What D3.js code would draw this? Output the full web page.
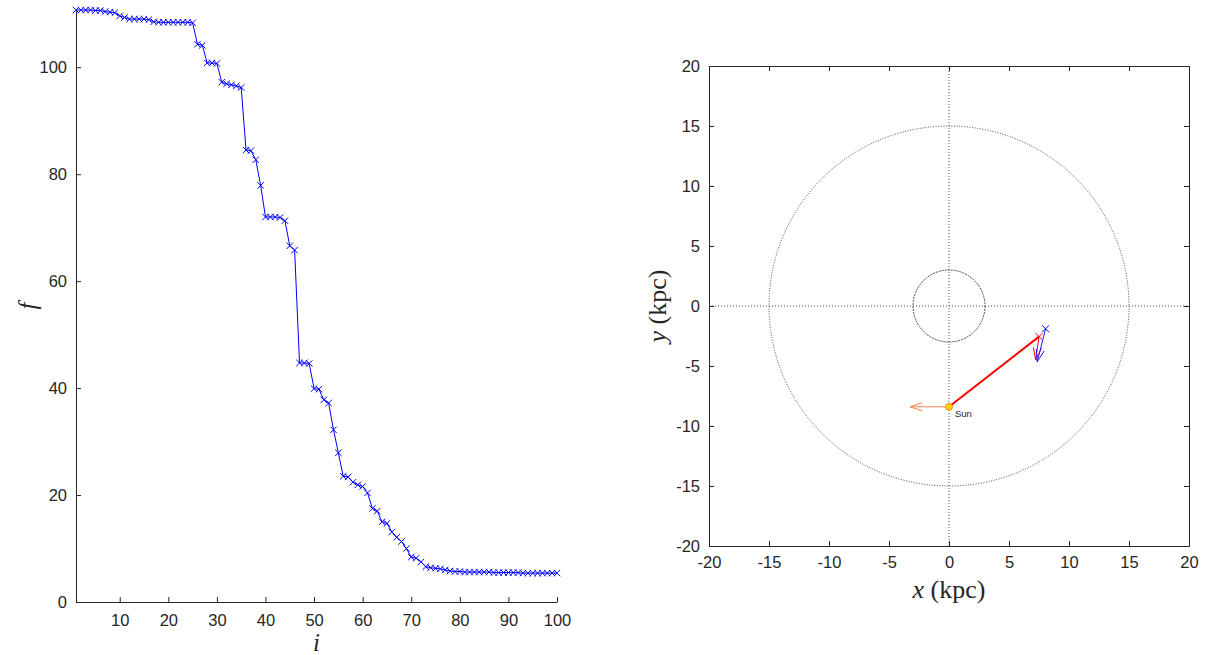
<!DOCTYPE html>
<html><head><meta charset="utf-8">
<script src="https://cdn.jsdelivr.net/npm/d3@7"></script>
<style>
body{margin:0;background:#fff;}
svg{display:block;}
.tick text{font-family:"Liberation Sans",Arial,sans-serif;font-size:16.5px;fill:#262626;}
</style></head><body>
<svg id="c" width="1208" height="655"></svg>
<script>
// ---- Left chart data ----
const iValues = d3.range(1, 101);
const fValues = [
 110.7,110.7,110.7,110.7,110.6,110.6,110.4,110.3,110.2,109.6,
 109.3,109.0,109.0,109.0,109.0,108.9,108.5,108.4,108.4,108.4,
 108.4,108.4,108.4,108.4,108.3,104.3,104.1,100.8,100.8,100.7,
 97.2,96.9,96.7,96.5,96.2,84.5,84.4,82.7,77.9,72.0,
 72.0,72.0,71.9,71.3,66.6,65.8,44.7,44.7,44.6,39.9,
 39.8,37.8,37.2,32.2,27.9,23.5,23.4,22.4,21.9,21.6,
 20.4,17.5,17.0,15.0,14.7,13.1,12.1,11.3,10.0,8.4,
 8.2,7.5,6.6,6.4,6.3,6.2,6.0,5.8,5.7,5.7,
 5.6,5.6,5.6,5.6,5.6,5.6,5.5,5.5,5.5,5.5,
 5.5,5.5,5.4,5.4,5.4,5.4,5.4,5.4,5.4,5.4
];
const leftXTicks = [10,20,30,40,50,60,70,80,90,100];
const leftYTicks = [0,20,40,60,80,100];

// ---- Right chart data ----
const rightTicks = [-20,-15,-10,-5,0,5,10,15,20];
const circleRadii = [15, 3];
const sunPos = [0, -8.4];
const sunVel = [-3.25, 0];
const redPos = [7.5, -2.55];
const redVel = [-0.28, -1.95];
const bluePos = [8.05, -1.9];
const blueVel = [-0.7, -2.75];

const svg = d3.select("#c");
const axisColor = "#262626";
const fmt = d => String(d); // plain hyphen minus like the reference
const serif = "'Liberation Serif','DejaVu Serif',serif";

// ================= LEFT =================
const L = {left:76, right:557, top:10, bottom:602};
const xL = d3.scaleLinear().domain([1,100]).range([L.left, L.right]);
const yL = d3.scaleLinear().domain([0, d3.max(fValues)]).range([L.bottom, L.top]);

const gL = svg.append("g");
const xAxisL = gL.append("g").attr("transform",`translate(0,${L.bottom})`)
  .call(d3.axisBottom(xL).tickValues(leftXTicks).tickFormat(fmt).tickSizeInner(-5).tickSizeOuter(0).tickPadding(12));
const yAxisL = gL.append("g").attr("transform",`translate(${L.left},0)`)
  .call(d3.axisLeft(yL).tickValues(leftYTicks).tickFormat(fmt).tickSizeInner(-5).tickSizeOuter(0).tickPadding(9));
[xAxisL,yAxisL].forEach(a=>{a.selectAll("path,line").attr("stroke",axisColor).attr("stroke-width",1);});

const lineL = d3.line().x((d,k)=>xL(iValues[k])).y(d=>yL(d));
gL.append("path").datum(fValues).attr("d",lineL).attr("fill","none").attr("stroke","#0000ff").attr("stroke-width",1);
const ms = 3.2;
gL.selectAll("path.mk").data(fValues).enter().append("path").attr("class","mk")
  .attr("d",(d,k)=>{const x=xL(iValues[k]), y=yL(d);
    return `M${x-ms},${y-ms}L${x+ms},${y+ms}M${x-ms},${y+ms}L${x+ms},${y-ms}`;})
  .attr("stroke","#0000ff").attr("stroke-width",1).attr("fill","none");

gL.append("text").attr("x",(L.left+L.right)/2).attr("y",651).attr("text-anchor","middle")
  .attr("font-family",serif).attr("font-style","italic").attr("font-size",25).attr("fill",axisColor).text("i");
gL.append("text").attr("transform",`translate(36,${(L.top+L.bottom)/2}) rotate(-90)`).attr("text-anchor","middle")
  .attr("font-family",serif).attr("font-style","italic").attr("font-size",25).attr("fill",axisColor).text("f");

// ================= RIGHT =================
const R = {left:709, right:1189, top:66, bottom:546};
const xR = d3.scaleLinear().domain([-20,20]).range([R.left,R.right]);
const yR = d3.scaleLinear().domain([-20,20]).range([R.bottom,R.top]);
const gR = svg.append("g");

const dotted = {stroke:"#333", "stroke-width":0.9, "stroke-dasharray":"1,2", fill:"none"};
function applyAttrs(sel, a){Object.entries(a).forEach(([k,v])=>sel.attr(k,v));return sel;}
applyAttrs(gR.append("line").attr("x1",xR(-20)).attr("x2",xR(20)).attr("y1",yR(0)).attr("y2",yR(0)), dotted);
applyAttrs(gR.append("line").attr("x1",xR(0)).attr("x2",xR(0)).attr("y1",yR(-20)).attr("y2",yR(20)), dotted);
circleRadii.forEach(r=>{
  applyAttrs(gR.append("ellipse").attr("cx",xR(0)).attr("cy",yR(0)).attr("rx",xR(r)-xR(0)).attr("ry",yR(0)-yR(r)), dotted)
    .attr("stroke-dasharray", r<5 ? "2,1" : "1,1.6");
});

const axB = gR.append("g").attr("transform",`translate(0,${R.bottom})`)
  .call(d3.axisBottom(xR).tickValues(rightTicks).tickFormat(fmt).tickSizeInner(-5).tickSizeOuter(0).tickPadding(10));
const axT = gR.append("g").attr("transform",`translate(0,${R.top})`)
  .call(d3.axisTop(xR).tickValues(rightTicks).tickSizeInner(-5).tickSizeOuter(0).tickFormat(""));
const axLf = gR.append("g").attr("transform",`translate(${R.left},0)`)
  .call(d3.axisLeft(yR).tickValues(rightTicks).tickFormat(fmt).tickSizeInner(-5).tickSizeOuter(0).tickPadding(9));
const axRt = gR.append("g").attr("transform",`translate(${R.right},0)`)
  .call(d3.axisRight(yR).tickValues(rightTicks).tickSizeInner(-5).tickSizeOuter(0).tickFormat(""));
[axB,axT,axLf,axRt].forEach(a=>{a.selectAll("path,line").attr("stroke",axisColor).attr("stroke-width",1);});

function arrow(p, v, color, w){
  const x1=xR(p[0]), y1=yR(p[1]), x2=xR(p[0]+v[0]), y2=yR(p[1]+v[1]);
  const ang=Math.atan2(y2-y1,x2-x1), hl=13, hw=0.32;
  const a1=[x2-hl*Math.cos(ang-hw), y2-hl*Math.sin(ang-hw)];
  const a2=[x2-hl*Math.cos(ang+hw), y2-hl*Math.sin(ang+hw)];
  gR.append("path").attr("d",`M${x1},${y1}L${x2},${y2}M${a1[0]},${a1[1]}L${x2},${y2}L${a2[0]},${a2[1]}`)
    .attr("stroke",color).attr("stroke-width",w).attr("fill","none");
}
function xmark(p,color){
  const x=xR(p[0]), y=yR(p[1]), s=3.5;
  gR.append("path").attr("d",`M${x-s},${y-s}L${x+s},${y+s}M${x-s},${y+s}L${x+s},${y-s}`)
    .attr("stroke",color).attr("stroke-width",1).attr("fill","none");
}

gR.append("line").attr("x1",xR(sunPos[0])).attr("y1",yR(sunPos[1])).attr("x2",xR(redPos[0])).attr("y2",yR(redPos[1]))
  .attr("stroke","#ff0000").attr("stroke-width",2);
arrow(sunPos, sunVel, "#f4844c", 1);
arrow(redPos, redVel, "#ff0000", 1);
arrow(bluePos, blueVel, "#1a1aff", 1);
xmark(redPos, "#ff0000");
xmark(bluePos, "#0000ff");
gR.append("circle").attr("cx",xR(sunPos[0])).attr("cy",yR(sunPos[1])).attr("r",3.5)
  .attr("fill","#ffd400").attr("stroke","#ff8c1a").attr("stroke-width",1);
gR.append("text").attr("x",xR(sunPos[0])+6).attr("y",yR(sunPos[1])+10)
  .attr("font-family","'Liberation Sans',Arial,sans-serif").attr("font-size",9.5).attr("fill","#222").text("Sun");

const xl = gR.append("text").attr("x",(R.left+R.right)/2).attr("y",598).attr("text-anchor","middle")
  .attr("font-family",serif).attr("font-size",26).attr("fill",axisColor);
xl.append("tspan").attr("font-style","italic").text("x");
xl.append("tspan").text(" (kpc)");
const yl = gR.append("text").attr("transform",`translate(666,${(R.top+R.bottom)/2}) rotate(-90)`).attr("text-anchor","middle")
  .attr("font-family",serif).attr("font-size",26).attr("fill",axisColor);
yl.append("tspan").attr("font-style","italic").text("y");
yl.append("tspan").text(" (kpc)");
</script>
</body></html>
